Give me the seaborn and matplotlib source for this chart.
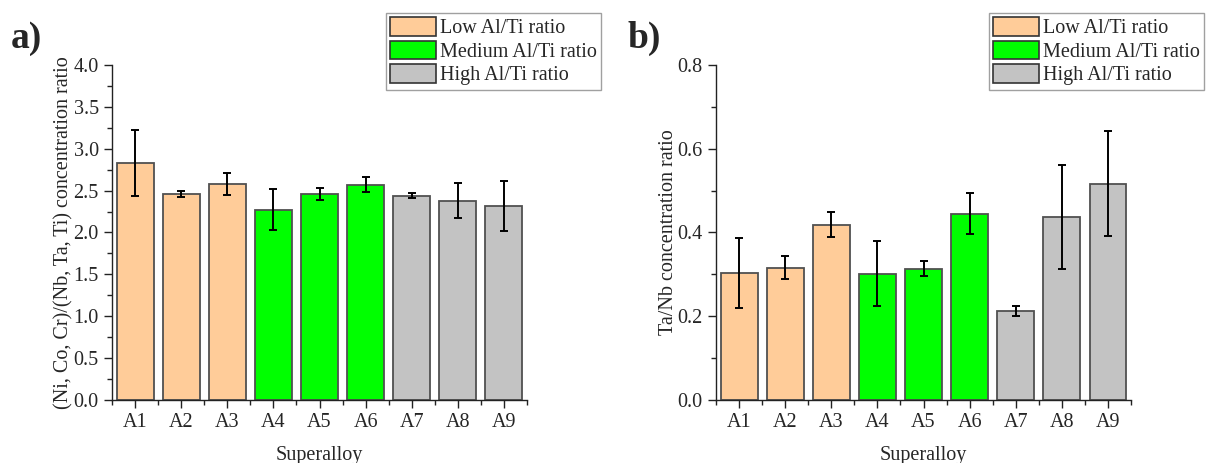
import matplotlib
matplotlib.use("Agg")
import matplotlib.pyplot as plt
from matplotlib.patches import Patch
from matplotlib.ticker import MultipleLocator, FixedLocator, FormatStrFormatter
import seaborn as sns
import pandas as pd

alloys = ["A1", "A2", "A3", "A4", "A5", "A6", "A7", "A8", "A9"]
groups = ["Low Al/Ti ratio"] * 3 + ["Medium Al/Ti ratio"] * 3 + ["High Al/Ti ratio"] * 3
group_names = ["Low Al/Ti ratio", "Medium Al/Ti ratio", "High Al/Ti ratio"]
group_colors = ["#FFCC99", "#00FF00", "#C3C3C3"]

# (Ni, Co, Cr)/(Nb, Ta, Ti) concentration ratio
ratio_a = [2.83, 2.46, 2.58, 2.27, 2.46, 2.57, 2.44, 2.38, 2.32]
err_a = [0.39, 0.04, 0.13, 0.245, 0.075, 0.09, 0.03, 0.21, 0.30]

# Ta/Nb concentration ratio
ratio_b = [0.303, 0.316, 0.419, 0.302, 0.313, 0.445, 0.213, 0.437, 0.517]
err_b = [0.084, 0.027, 0.030, 0.078, 0.018, 0.049, 0.012, 0.125, 0.126]

sns.set_style("ticks")
plt.rcParams["font.family"] = ["Liberation Serif", "DejaVu Serif"]

W, H = 1210, 463
fig = plt.figure(figsize=(W / 100, H / 100), dpi=100)


def px_axes(x0, x1, y0, y1):
    return fig.add_axes([x0 / W, 1 - y1 / H, (x1 - x0) / W, (y1 - y0) / H])


def draw_panel(ax, values, errs, ylabel, ymax, major, minor, fs):
    df = pd.DataFrame({"alloy": alloys, "value": values, "group": groups})
    sns.barplot(data=df, x="alloy", y="value", hue="group",
                hue_order=group_names, palette=group_colors, dodge=False,
                saturation=1, width=0.8, edgecolor="#505050", linewidth=1.3,
                legend=False, ax=ax)
    ax.errorbar(range(len(alloys)), values, yerr=errs, fmt="none",
                ecolor="black", elinewidth=1.4, capsize=3, capthick=1.4)
    ax.set_xlim(-0.5, len(alloys) - 0.5)
    ax.set_ylim(0, ymax)
    ax.yaxis.set_major_locator(MultipleLocator(major))
    ax.yaxis.set_minor_locator(MultipleLocator(minor))
    ax.xaxis.set_minor_locator(FixedLocator([i - 0.5 for i in range(len(alloys) + 1)]))
    ax.yaxis.set_major_formatter(FormatStrFormatter("%.1f"))
    sns.despine(ax=ax)
    for s in ("left", "bottom"):
        ax.spines[s].set_linewidth(1.0)
        ax.spines[s].set_color("#222222")
    ax.tick_params(which="major", direction="out", length=5.5, width=1.0,
                   color="#222222", labelsize=fs, pad=4)
    ax.tick_params(which="minor", direction="out", length=3.5, width=1.0,
                   color="#222222")
    ax.set_xlabel("Superalloy", fontsize=fs, labelpad=10)
    ax.set_ylabel(ylabel, fontsize=fs, labelpad=0)


ax1 = px_axes(112, 527, 65, 400)
draw_panel(ax1, ratio_a, err_a, "(Ni, Co, Cr)/(Nb, Ta, Ti) concentration ratio",
           4.0, 0.5, 0.25, 14.5)
ax2 = px_axes(716, 1131, 65, 400)
draw_panel(ax2, ratio_b, err_b, "Ta/Nb concentration ratio", 0.8, 0.2, 0.1, 14.5)

fig.text(11 / W, 1 - 48 / H, "a)", fontsize=27, fontweight="bold", ha="left", va="baseline")
fig.text(628 / W, 1 - 48 / H, "b)", fontsize=27, fontweight="bold", ha="left", va="baseline")


def add_legend(x0, y0, fs, hl, hh):
    handles = [Patch(facecolor=c, edgecolor="#333333", linewidth=1.2) for c in group_colors]
    leg = fig.legend(handles, group_names, loc="upper left",
                     bbox_to_anchor=(x0 / W, 1 - y0 / H), fontsize=fs,
                     frameon=True, fancybox=False, borderaxespad=0,
                     handlelength=hl, handleheight=hh, handletextpad=0.2,
                     labelspacing=0.12, borderpad=0.2)
    leg.get_frame().set_edgecolor("#888888")
    leg.get_frame().set_linewidth(1.0)
    return leg


add_legend(386, 13, 14.5, 2.3, 1.05)
add_legend(989, 13, 14.5, 2.3, 1.05)

fig.savefig("out.png", dpi=100, facecolor="white")
